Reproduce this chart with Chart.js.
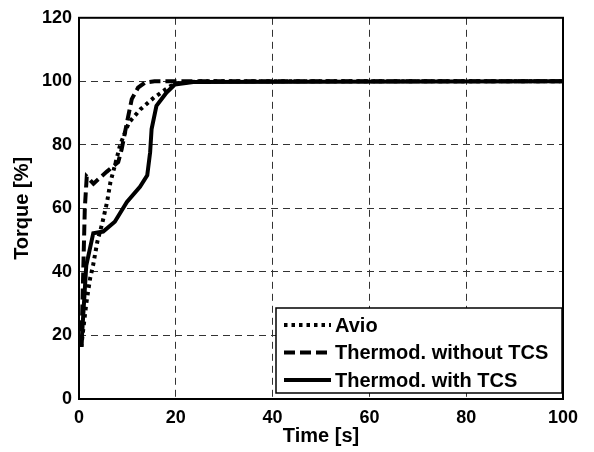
<!DOCTYPE html>
<html>
<head>
<meta charset="utf-8">
<script src="https://cdn.jsdelivr.net/npm/chart.js@4"></script>
<style>
  html, body { margin: 0; padding: 0; background: #fff; }
  #wrap { width: 594px; height: 452px; }
</style>
</head>
<body>
<div id="wrap"><canvas id="torque" width="594" height="452"></canvas></div>
<script>
// data (time in s, torque in %)
const avioX = [0, 0.5, 1.5, 2.3, 2.9, 3.8, 4.8, 5.8, 6.5, 7.6, 8.5, 10.3, 12.7, 15.5, 18.9, 21, 25, 100];
const avioY = [17, 17, 30, 38, 42, 49.6, 55.3, 62, 68.3, 74.6, 80, 87, 91.2, 94.9, 98.5, 99.6, 100, 100];

const noTcsX = [0, 0.5, 1.2, 1.6, 3, 5.7, 8.1, 8.8, 9.9, 10.9, 12.2, 13.6, 15.6, 100];
const noTcsY = [17, 17, 60, 70, 67.8, 71.5, 74.6, 78.5, 87, 94.4, 98, 99.6, 100, 100];

const tcsX = [0, 0.5, 1.5, 2.95, 5, 7.4, 9.9, 12.6, 14.1, 14.7, 15, 16, 18.1, 19.8, 23.6, 100];
const tcsY = [17, 17, 42, 52.2, 52.7, 55.8, 62, 66.8, 70.4, 77.7, 85, 92.3, 96.5, 99, 99.8, 100];

const xTicks = [0, 20, 40, 60, 80, 100];
const yTicks = [0, 20, 40, 60, 80, 100, 120];

const FONT = 'Liberation Sans, Arial, Helvetica, sans-serif';

function pts(xs, ys) {
  return xs.map((x, i) => ({ x, y: ys[i] }));
}

// frame around the plot area + legend box in the lower right
const framePlugin = {
  id: 'frameLegend',
  afterDatasetsDraw(chart) {
    const { ctx, chartArea: a } = chart;
    ctx.save();
    ctx.strokeStyle = '#000';
    ctx.lineWidth = 2;
    ctx.setLineDash([]);
    ctx.strokeRect(a.left, a.top, a.right - a.left, a.bottom - a.top);

    // legend
    const bx = 276, by = 308, bw = 286, bh = 85;
    ctx.fillStyle = '#fff';
    ctx.fillRect(bx, by, bw, bh);
    ctx.lineWidth = 1.5;
    ctx.strokeRect(bx, by, bw, bh);
    ctx.font = 'bold 20px ' + FONT;
    ctx.textBaseline = 'middle';
    chart.data.datasets.forEach((ds, i) => {
      const y = by + 17 + i * 27.5;
      ctx.beginPath();
      ctx.strokeStyle = '#000';
      ctx.lineWidth = ds.borderWidth;
      ctx.lineCap = 'butt';
      ctx.setLineDash(ds.borderDash || []);
      ctx.moveTo(bx + 8, y);
      ctx.lineTo(bx + 55, y);
      ctx.stroke();
      ctx.setLineDash([]);
      ctx.fillStyle = '#000';
      ctx.fillText(ds.label, bx + 59, y + 1);
    });
    ctx.restore();
  }
};

new Chart(document.getElementById('torque'), {
  type: 'line',
  data: {
    datasets: [
      { label: 'Avio', data: pts(avioX, avioY), borderDash: [3.5, 4] },
      { label: 'Thermod. without TCS', data: pts(noTcsX, noTcsY), borderDash: [11, 5] },
      { label: 'Thermod. with TCS', data: pts(tcsX, tcsY), borderDash: [] },
    ].map(d => Object.assign(d, {
      borderColor: '#000',
      borderWidth: 4,
      pointRadius: 0,
      tension: 0,
      fill: false,
    }))
  },
  options: {
    responsive: false,
    animation: false,
    layout: { padding: { top: 15, right: 31, left: 0, bottom: 0 } },
    plugins: { legend: { display: false }, tooltip: { enabled: false } },
    scales: {
      x: {
        type: 'linear', min: 0, max: 100,
        afterBuildTicks: s => { s.ticks = xTicks.map(v => ({ value: v })); },
        afterFit: s => { s.height = 53; },
        grid: { color: '#333', lineWidth: 1, tickLength: 0, drawTicks: false },
        border: { display: false, dash: [7, 5] },
        ticks: { color: '#000', padding: 8, font: { family: FONT, size: 18, weight: 'bold' }, maxRotation: 0 },
        title: { display: true, text: 'Time [s]', color: '#000', padding: { top: 0, bottom: 4 }, font: { family: FONT, size: 20, weight: 'bold' } }
      },
      y: {
        type: 'linear', min: 0, max: 120,
        afterBuildTicks: s => { s.ticks = yTicks.map(v => ({ value: v })); },
        afterFit: s => { s.width = 79; },
        grid: { color: '#333', lineWidth: 1, tickLength: 0, drawTicks: false },
        border: { display: false, dash: [7, 5] },
        ticks: { color: '#000', padding: 7, font: { family: FONT, size: 18, weight: 'bold' } },
        title: { display: true, text: 'Torque [%]', color: '#000', padding: { top: 10, bottom: 0 }, font: { family: FONT, size: 20, weight: 'bold' } }
      }
    }
  },
  plugins: [framePlugin]
});
</script>
</body>
</html>
